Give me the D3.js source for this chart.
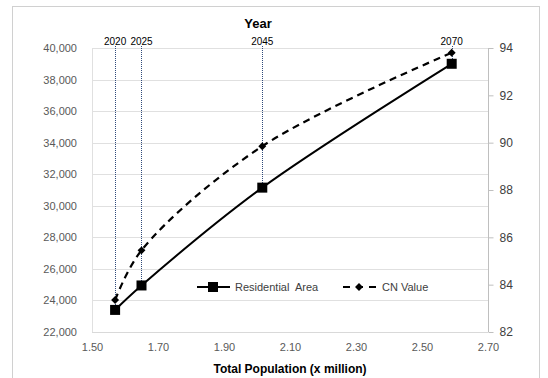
<!DOCTYPE html>
<html><head><meta charset="utf-8">
<script src="https://cdn.jsdelivr.net/npm/d3@7"></script>
<style>
html,body{margin:0;padding:0;background:#fff;}
svg{display:block;font-family:"Liberation Sans",Arial,sans-serif;}
</style></head>
<body>
<svg id="c" width="548" height="378"></svg>
<script>
const years = ["2020", "2025", "2045", "2070"];
const population = [1.57, 1.65, 2.016, 2.59];
const residentialArea = [23400, 24950, 31150, 39000];
const cnValue = [83.35, 85.45, 89.85, 93.8];
const xTicks = [1.5, 1.7, 1.9, 2.1, 2.3, 2.5, 2.7];
const yLeftTicks = [22000, 24000, 26000, 28000, 30000, 32000, 34000, 36000, 38000, 40000];
const yRightTicks = [82, 84, 86, 88, 90, 92, 94];

const svg = d3.select("#c");
const m = {l: 92, r: 488, t: 48, b: 332};
const x = d3.scaleLinear().domain([1.5, 2.7]).range([m.l, m.r]);
const yL = d3.scaleLinear().domain([22000, 40000]).range([m.b, m.t]);
const yR = d3.scaleLinear().domain([82, 94]).range([m.b, m.t]);

// outer border
svg.append("rect").attr("x", 12.5).attr("y", 6.5).attr("width", 527).attr("height", 400)
  .attr("fill", "none").attr("stroke", "#d0d0d0").attr("stroke-width", 1);

// gridlines
svg.append("g").selectAll("line").data(yLeftTicks).join("line")
  .attr("x1", m.l).attr("x2", m.r)
  .attr("y1", d => Math.round(yL(d)) + 0.5).attr("y2", d => Math.round(yL(d)) + 0.5)
  .attr("stroke", "#e0e0e0").attr("stroke-width", 1);
// left plot edge
svg.append("line").attr("x1", m.l + 0.5).attr("x2", m.l + 0.5).attr("y1", m.t).attr("y2", m.b)
  .attr("stroke", "#e0e0e0");

// left axis
const axL = d3.axisLeft(yL).tickValues(yLeftTicks).tickFormat(d3.format(",")).tickSize(0).tickPadding(15);
const gL = svg.append("g").attr("transform", `translate(${m.l},0)`).call(axL);
gL.select(".domain").remove();
gL.selectAll("text").attr("fill", "#595959").style("font-size", "11px");

// right axis
const axR = d3.axisRight(yR).tickValues(yRightTicks).tickSize(5).tickPadding(6);
const gR = svg.append("g").attr("transform", `translate(${m.r + 0.5},0)`).call(axR);
gR.select(".domain").attr("stroke", "#bfbfbf").attr("d", `M0,${m.t}V${m.b}`);
gR.selectAll(".tick line").attr("stroke", "#bfbfbf");
gR.selectAll("text").attr("fill", "#404040").style("font-size", "12px");

// bottom axis
const axB = d3.axisBottom(x).tickValues(xTicks).tickFormat(d3.format(".2f")).tickSize(0).tickPadding(11);
const gB = svg.append("g").attr("transform", `translate(0,${m.b + 0.5})`).call(axB);
gB.select(".domain").attr("stroke", "#d9d9d9").attr("d", `M${m.l},0H${m.r}`);
gB.selectAll("text").attr("fill", "#595959").style("font-size", "11px");

// axis titles
svg.append("text").attr("x", 290).attr("y", 373).attr("text-anchor", "middle")
  .style("font-size", "12px").style("font-weight", "bold").attr("fill", "#000")
  .text("Total Population (x million)");
svg.append("text").attr("x", 258).attr("y", 28).attr("text-anchor", "middle")
  .style("font-size", "13px").style("font-weight", "bold").attr("fill", "#000")
  .text("Year");

// year drop lines & labels
years.forEach((yr, i) => {
  svg.append("line")
    .attr("x1", Math.round(x(population[i])) + 0.5).attr("x2", Math.round(x(population[i])) + 0.5)
    .attr("y1", 46).attr("y2", yL(residentialArea[i]))
    .attr("stroke", "#2f4a7a").attr("stroke-width", 1).attr("stroke-dasharray", "1,1");
  svg.append("text").attr("x", x(population[i])).attr("y", 45).attr("text-anchor", "middle")
    .style("font-size", "10px").attr("fill", "#000").text(yr);
});

const curve = d3.curveCatmullRom.alpha(0.5);
const pts = population.map((p, i) => ({p, r: residentialArea[i], c: cnValue[i]}));

// residential line
svg.append("path").datum(pts)
  .attr("d", d3.line().x(d => x(d.p)).y(d => yL(d.r)).curve(curve))
  .attr("fill", "none").attr("stroke", "#000").attr("stroke-width", 2);
// CN line
svg.append("path").datum(pts)
  .attr("d", d3.line().x(d => x(d.p)).y(d => yR(d.c)).curve(curve))
  .attr("fill", "none").attr("stroke", "#000").attr("stroke-width", 2.2).attr("stroke-dasharray", "7,5");

// markers
svg.append("g").selectAll("rect").data(pts).join("rect")
  .attr("x", d => x(d.p) - 5).attr("y", d => yL(d.r) - 5).attr("width", 10).attr("height", 10)
  .attr("fill", "#000");
const diamond = d3.symbol().type(d3.symbolDiamond2).size(40);
svg.append("g").selectAll("path").data(pts).join("path")
  .attr("transform", d => `translate(${x(d.p)},${yR(d.c)})`).attr("d", diamond).attr("fill", "#000");

// legend
const lg = svg.append("g").attr("transform", "translate(0,287)");
lg.append("line").attr("x1", 197).attr("x2", 230).attr("y1", 0).attr("y2", 0).attr("stroke", "#000").attr("stroke-width", 2);
lg.append("rect").attr("x", 208).attr("y", -5).attr("width", 10).attr("height", 10).attr("fill", "#000");
lg.append("text").attr("x", 235).attr("y", 4).style("font-size", "11px").attr("fill", "#404040")
  .attr("xml:space", "preserve").text("Residential  Area");
lg.append("line").attr("x1", 343).attr("x2", 377).attr("y1", 0).attr("y2", 0).attr("stroke", "#000").attr("stroke-width", 2).attr("stroke-dasharray", "7,6");
lg.append("path").attr("transform", "translate(359,0)").attr("d", diamond).attr("fill", "#000");
lg.append("text").attr("x", 382).attr("y", 4).style("font-size", "11px").attr("fill", "#404040").text("CN Value");
</script>
</body></html>
